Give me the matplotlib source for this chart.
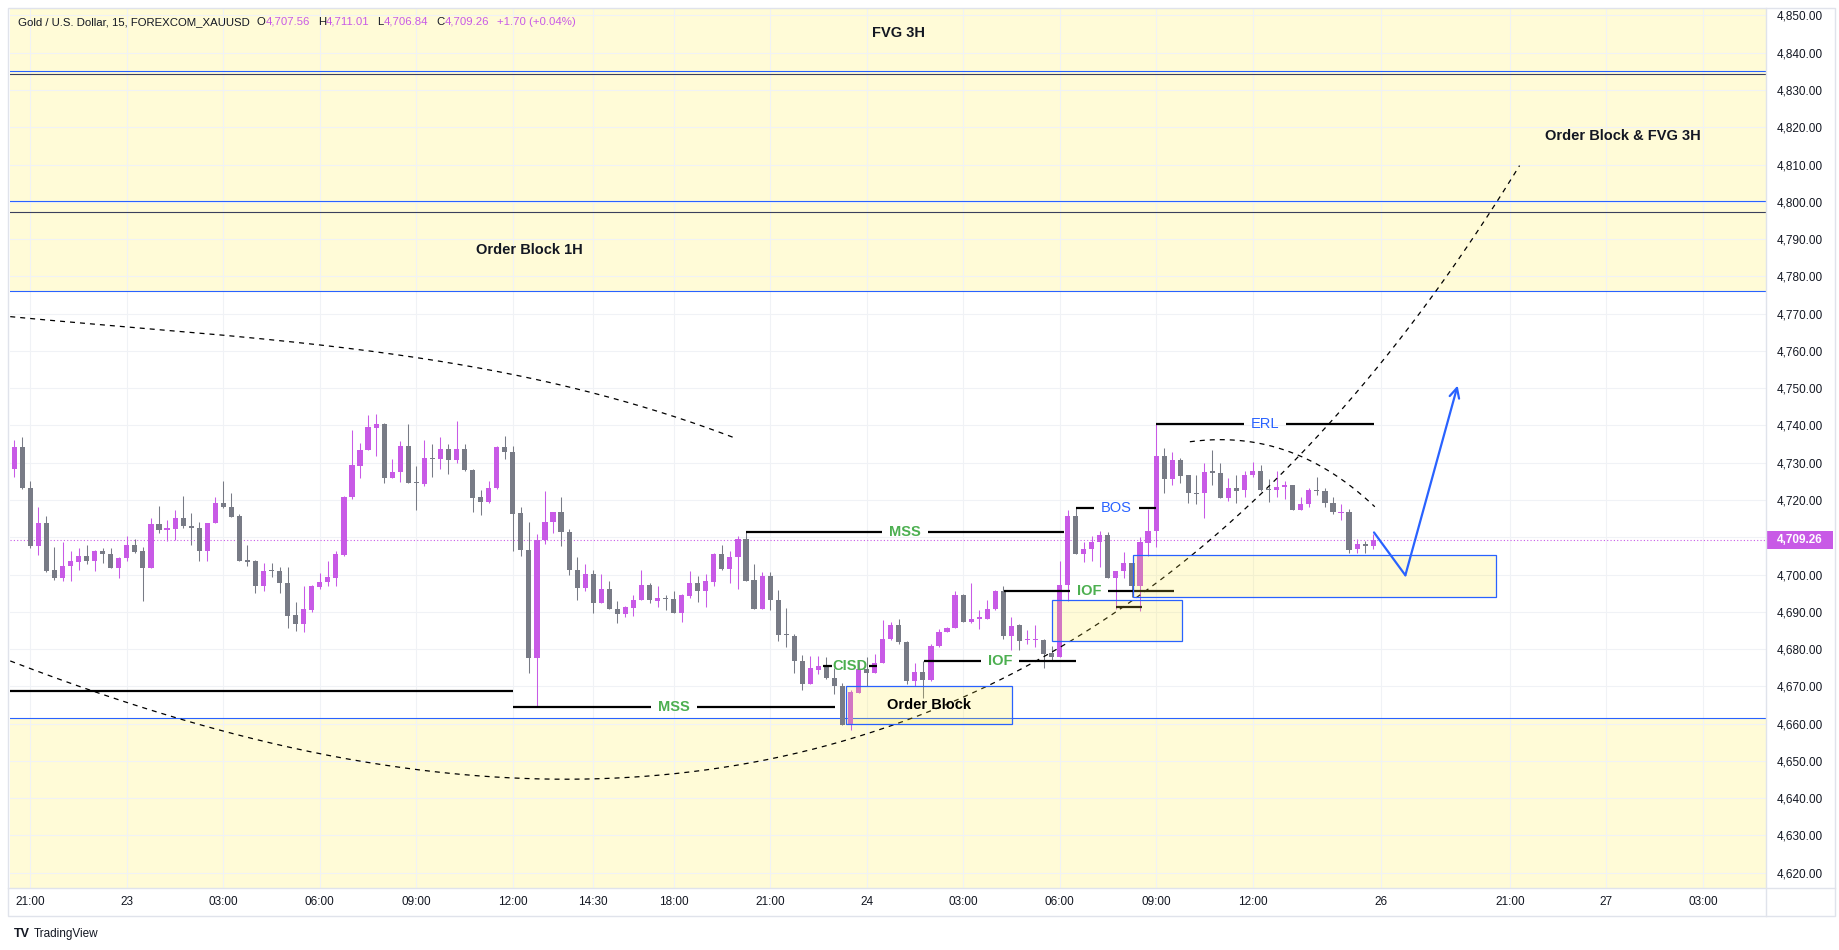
import numpy as np
import matplotlib
matplotlib.use("Agg")
import matplotlib.pyplot as plt
import matplotlib.transforms as mtransforms
from matplotlib.patches import Rectangle
from matplotlib.lines import Line2D

plt.rcParams["font.family"] = ["Liberation Sans", "DejaVu Sans"]

# ---- price data (15 min bars, bar index 0 = 21:00 on the 22nd) ----
first_bar = -2
opens = [4728.3, 4734.1, 4723.3, 4707.6, 4713.8, 4701.3, 4699.0, 4702.2, 4703.3, 4705.1,
         4703.7, 4706.4, 4705.6, 4701.7, 4704.4, 4708.0, 4706.2, 4701.7, 4713.6, 4712.0,
         4712.1, 4715.3, 4713.1, 4712.6, 4706.2, 4713.8, 4719.3, 4718.2, 4715.6, 4704.0,
         4703.5, 4696.8, 4701.0, 4701.0, 4697.8, 4689.2, 4686.6, 4690.6, 4696.6, 4697.9,
         4699.2, 4705.3, 4720.7, 4729.2, 4733.4, 4739.3, 4740.3, 4725.8, 4727.5, 4734.6,
         4724.7, 4724.2, 4731.4, 4730.9, 4733.8, 4730.6, 4733.8, 4728.1, 4720.7, 4719.4,
         4723.2, 4734.1, 4733.0, 4716.4, 4706.7, 4677.5, 4709.3, 4714.0, 4716.9, 4711.5,
         4701.3, 4696.3, 4700.2, 4692.3, 4696.2, 4690.8, 4689.3, 4691.1, 4693.1, 4697.3,
         4692.8, 4693.8, 4693.5, 4689.6, 4694.3, 4697.6, 4695.5, 4698.1, 4705.6, 4701.6,
         4704.6, 4709.6, 4698.6, 4690.8, 4699.7, 4693.3, 4683.9, 4683.6, 4676.9, 4670.6,
         4674.5, 4675.4, 4672.2, 4670.0, 4659.6, 4668.2, 4674.6, 4673.5, 4676.4, 4682.7,
         4686.5, 4682.0, 4671.5, 4673.9, 4671.8, 4680.7, 4684.5, 4685.6, 4694.6, 4687.4,
         4688.2, 4688.2, 4690.7, 4695.5, 4683.4, 4686.4, 4682.4, 4682.4, 4682.4, 4679.0,
         4677.8, 4697.1, 4715.6, 4705.5, 4706.9, 4708.7, 4710.7, 4699.0, 4700.9, 4703.2,
         4697.0, 4708.4, 4711.6, 4731.9, 4725.6, 4730.6, 4726.6, 4721.9, 4721.8, 4727.7,
         4727.3, 4720.5, 4723.3, 4722.7, 4726.6, 4727.8, 4723.0, 4722.7, 4723.4, 4723.9,
         4717.3, 4719.0, 4722.8, 4722.5, 4719.3, 4716.6, 4716.9, 4706.9, 4708.2, 4707.56]
highs = [4736.0, 4737.0, 4725.0, 4718.2, 4715.8, 4707.5, 4708.8, 4706.2, 4707.2, 4707.8,
         4706.6, 4707.2, 4707.2, 4704.6, 4710.4, 4709.6, 4707.5, 4715.3, 4718.5, 4714.5,
         4717.4, 4721.2, 4716.6, 4714.2, 4713.8, 4720.9, 4725.0, 4722.0, 4716.2, 4707.8,
         4703.9, 4703.2, 4703.2, 4702.1, 4701.9, 4692.7, 4697.0, 4697.3, 4700.5, 4703.5,
         4706.2, 4721.2, 4738.9, 4735.2, 4742.7, 4743.2, 4740.7, 4730.9, 4735.7, 4740.3,
         4729.0, 4736.0, 4734.9, 4736.8, 4734.9, 4741.2, 4734.9, 4728.4, 4722.8, 4725.2,
         4734.6, 4737.3, 4734.6, 4718.2, 4714.2, 4711.0, 4722.3, 4716.9, 4720.7, 4712.1,
         4704.8, 4702.7, 4701.3, 4700.2, 4698.4, 4692.8, 4691.6, 4694.6, 4701.3, 4697.6,
         4697.0, 4694.6, 4695.7, 4694.9, 4701.0, 4699.7, 4700.2, 4705.9, 4708.0, 4706.2,
         4710.3, 4711.5, 4702.7, 4700.8, 4700.8, 4695.9, 4691.1, 4684.0, 4678.5, 4678.1,
         4678.1, 4677.8, 4674.9, 4671.0, 4669.0, 4676.9, 4677.9, 4678.7, 4687.8, 4687.2,
         4688.0, 4682.2, 4676.4, 4676.9, 4681.4, 4685.4, 4686.0, 4695.5, 4694.9, 4697.6,
         4690.5, 4693.2, 4695.9, 4697.0, 4688.7, 4686.7, 4685.2, 4686.5, 4682.7, 4680.9,
         4703.7, 4717.2, 4718.1, 4708.6, 4710.4, 4711.8, 4711.3, 4701.0, 4706.0, 4703.2,
         4710.0, 4717.6, 4740.4, 4734.0, 4733.0, 4731.3, 4726.6, 4726.6, 4729.9, 4733.5,
         4729.9, 4725.9, 4726.6, 4727.9, 4730.1, 4729.5, 4725.7, 4727.9, 4725.0, 4723.9,
         4720.7, 4723.2, 4726.3, 4723.2, 4720.7, 4718.8, 4717.6, 4709.6, 4708.9, 4711.01]
lows = [4726.3, 4722.9, 4707.0, 4705.2, 4700.6, 4698.6, 4698.4, 4698.4, 4701.3, 4702.7,
        4701.0, 4703.0, 4701.7, 4699.0, 4703.6, 4705.7, 4692.8, 4701.7, 4711.1, 4708.9,
        4709.3, 4712.4, 4707.9, 4703.6, 4703.7, 4713.8, 4717.8, 4715.4, 4703.7, 4702.2,
        4695.0, 4695.7, 4699.3, 4695.1, 4685.6, 4684.8, 4684.5, 4689.9, 4696.1, 4696.8,
        4696.8, 4705.1, 4720.2, 4726.0, 4733.4, 4731.7, 4724.5, 4725.8, 4724.8, 4724.5,
        4717.3, 4723.8, 4726.3, 4728.3, 4726.9, 4730.0, 4727.9, 4716.7, 4715.9, 4719.2,
        4722.9, 4730.9, 4706.2, 4704.9, 4673.5, 4664.6, 4708.2, 4711.1, 4707.6, 4699.8,
        4693.1, 4695.6, 4689.6, 4692.3, 4690.7, 4686.9, 4688.5, 4688.8, 4693.1, 4692.3,
        4691.2, 4690.4, 4689.6, 4687.4, 4693.8, 4692.5, 4691.2, 4696.8, 4701.3, 4697.6,
        4696.0, 4698.4, 4690.7, 4690.7, 4690.4, 4682.3, 4680.5, 4673.5, 4669.0, 4670.6,
        4673.2, 4672.0, 4667.9, 4659.6, 4658.3, 4668.2, 4670.2, 4673.5, 4676.4, 4682.4,
        4681.4, 4670.6, 4670.2, 4667.0, 4671.5, 4680.5, 4684.5, 4685.6, 4687.2, 4686.9,
        4685.4, 4688.0, 4690.5, 4682.7, 4679.7, 4679.7, 4681.4, 4680.5, 4674.9, 4676.9,
        4677.8, 4693.0, 4705.5, 4703.3, 4703.7, 4701.9, 4699.0, 4690.7, 4699.0, 4693.9,
        4690.3, 4705.1, 4707.3, 4721.8, 4724.1, 4724.6, 4719.2, 4718.8, 4715.2, 4724.1,
        4720.5, 4719.7, 4719.1, 4720.7, 4726.3, 4722.5, 4719.4, 4720.7, 4720.3, 4717.3,
        4717.2, 4718.2, 4721.4, 4718.2, 4716.3, 4714.5, 4705.8, 4705.8, 4705.7, 4706.84]
closes = [4734.1, 4723.2, 4707.6, 4713.8, 4701.0, 4699.0, 4702.4, 4703.5, 4705.1, 4703.7,
          4706.4, 4705.4, 4701.7, 4704.5, 4708.0, 4706.0, 4701.7, 4713.6, 4712.0, 4712.4,
          4715.3, 4713.0, 4712.4, 4706.2, 4713.8, 4719.3, 4718.1, 4715.4, 4703.7, 4703.3,
          4696.8, 4701.0, 4700.9, 4697.6, 4689.0, 4686.6, 4690.8, 4696.8, 4698.1, 4699.4,
          4705.6, 4720.9, 4729.5, 4733.5, 4739.5, 4740.3, 4725.8, 4727.6, 4734.6, 4724.5,
          4724.5, 4731.3, 4730.9, 4733.8, 4730.6, 4733.8, 4728.1, 4720.5, 4719.4, 4723.2,
          4734.1, 4732.8, 4716.2, 4706.5, 4677.5, 4709.3, 4714.2, 4716.9, 4711.3, 4701.1,
          4696.3, 4700.2, 4692.3, 4696.2, 4690.7, 4689.3, 4691.4, 4693.3, 4697.3, 4693.1,
          4693.8, 4693.4, 4689.6, 4694.6, 4697.6, 4695.5, 4698.4, 4705.6, 4701.6, 4704.8,
          4709.6, 4698.4, 4690.8, 4699.7, 4693.1, 4683.7, 4683.7, 4676.7, 4670.6, 4674.8,
          4675.4, 4672.2, 4670.0, 4659.6, 4668.4, 4674.6, 4673.5, 4676.4, 4682.7, 4686.5,
          4681.8, 4671.5, 4673.9, 4671.8, 4680.9, 4684.7, 4685.7, 4694.6, 4687.4, 4688.2,
          4688.4, 4690.8, 4695.5, 4683.4, 4686.2, 4682.1, 4682.7, 4682.7, 4678.7, 4677.8,
          4697.3, 4715.6, 4705.5, 4706.9, 4708.8, 4710.7, 4699.0, 4701.0, 4703.2, 4697.0,
          4708.6, 4711.8, 4731.9, 4725.6, 4730.6, 4726.4, 4721.8, 4721.7, 4727.6, 4727.3,
          4720.5, 4723.3, 4722.5, 4726.7, 4727.8, 4722.8, 4722.7, 4723.6, 4723.9, 4717.3,
          4719.0, 4722.7, 4722.5, 4719.1, 4716.7, 4716.8, 4706.7, 4708.2, 4707.7, 4709.26]

time_tick_pos = [0, 12, 24, 36, 48, 60, 70, 80, 92, 104, 116, 128, 140, 152, 168, 184, 196, 208]
time_tick_labels = ["21:00", "23", "03:00", "06:00", "09:00", "12:00", "14:30", "18:00", "21:00",
                    "24", "03:00", "06:00", "09:00", "12:00", "26", "21:00", "27", "03:00"]
price_ticks = list(range(4620, 4851, 10))
last_price = 4709.26

# ---- drawings (bar index, price) ----
seg_x0 = [-3, 60.0, 89.0, 98.6, 111.1, 121.1, 130.1, 135.0, 140.0]
seg_x1 = [60.0, 100.1, 128.5, 105.3, 130.1, 142.2, 140.0, 138.2, 167.1]
seg_y = [4668.8, 4664.5, 4711.3, 4675.4, 4676.7, 4695.5, 4717.8, 4691.2, 4740.3]
seg_text = ["", "MSS", "MSS", "CISD", "IOF", "IOF", "BOS", "", "ERL"]
seg_gap = [0, 7, 7, 1, 7, 7, 7, 0, 7]

box_x0 = [101.4, 127.1, 137.1]
box_x1 = [122.1, 143.2, 182.3]
box_y0 = [4659.9, 4682.3, 4694.0]
box_y1 = [4670.1, 4693.2, 4705.3]

zone_blue_lines = [4835.2, 4800.3, 4776.0, 4661.5]
zone_dark_lines = [4834.2, 4797.3]
zone_labels = ["FVG 3H", "Order Block 1H", "Order Block & FVG 3H"]
zone_label_x = [108.0, 62.0, 198.1]
zone_label_y = [4845.3, 4787.0, 4817.6]

low_curve_x = [-2.5, 7.2, 31.0, 64.8, 98.9, 108.6, 118.9, 126.0, 131.4, 138.8, 147.1, 155.4,
               161.6, 166.4, 174.6, 181.9, 185.2]
low_curve_y = [4677.0, 4668.8, 4654.5, 4645.2, 4653.2, 4660.8, 4670.2, 4678.7, 4684.9, 4695.7,
               4710.0, 4726.1, 4740.5, 4752.1, 4776.0, 4800.0, 4808.4]
top_curve_x = [-2.5, 25.0, 45.0, 64.2, 72.1, 80.0, 87.9]
top_curve_y = [4769.1, 4764.5, 4758.5, 4751.6, 4747.8, 4742.9, 4736.0]
small_arc_x = [144.2, 148.4, 152.1, 156.7, 160.8, 163.7, 166.2, 167.2]
small_arc_y = [4735.7, 4736.0, 4735.5, 4733.1, 4728.6, 4724.3, 4720.3, 4718.2]

path_x = [167.1, 171.0, 177.5]
path_y = [4711.3, 4699.8, 4750.7]

PURPLE = "#c85ae6"
GREY = "#787b86"
BLUE = "#2962ff"
GREEN = "#4caf50"
ZONE = (1.0, 0.92, 0.23, 0.2)
TXT = "#131722"

W, H = 1840, 950
fig = plt.figure(figsize=(W / 100, H / 100), dpi=100)
L, R, T, B = 10, 1766, 8, 888
ax = fig.add_axes([L / W, 1 - B / H, (R - L) / W, (B - T) / H])
ax.set_xlim(-2.53, 215.85)
ax.set_ylim(4615.9, 4852.0)
for s in ax.spines.values():
    s.set_visible(False)

ax.set_xticks(time_tick_pos)
ax.set_xticklabels(time_tick_labels)
ax.set_yticks(price_ticks)
ax.set_yticklabels(["" if p == 4710 else f"{p:,.2f}" for p in price_ticks])
ax.yaxis.tick_right()
ax.tick_params(axis="x", length=0, pad=6, labelsize=8.5, labelcolor=TXT)
ax.tick_params(axis="y", length=0, pad=8, labelsize=8.5, labelcolor=TXT)
for lab in ax.get_yticklabels():
    lab.set_horizontalalignment("left")
ax.grid(True, color="#f0f2f6", lw=0.75, zorder=0)
ax.set_axisbelow(True)

# zones
ax.axhspan(4776.0, 4900, color=ZONE, lw=0, zorder=0.5)
ax.axhspan(4500, 4661.5, color=ZONE, lw=0, zorder=0.5)
for y in zone_blue_lines:
    ax.axhline(y, color=BLUE, lw=0.8, zorder=1)
for y in zone_dark_lines:
    ax.axhline(y, color="#3a3f5c", lw=0.8, zorder=1)
for s, x, y in zip(zone_labels, zone_label_x, zone_label_y):
    ax.text(x, y, s, ha="center", va="center", fontsize=10.5, fontweight="bold", color=TXT, zorder=6)

# candles
xs = np.arange(first_bar, first_bar + len(opens))
o, h, l, c = map(np.array, (opens, highs, lows, closes))
cols = [PURPLE if cc >= oo else GREY for oo, cc in zip(o, c)]
ax.vlines(xs, l, h, colors=cols, lw=0.75, zorder=2)
body = np.maximum(np.abs(c - o), 0.3)
ax.bar(xs, body, bottom=np.minimum(o, c), width=0.64, color=cols, lw=0, zorder=3)

ax.axhline(last_price, color=PURPLE, lw=0.8, ls=(0, (1, 2)), zorder=2.5)

# horizontal level segments, the line broken around its label
rend = fig.canvas.get_renderer()
px_per_bar = ax.transData.transform((1, 0))[0] - ax.transData.transform((0, 0))[0]
for x0, x1, y, s, gap in zip(seg_x0, seg_x1, seg_y, seg_text, seg_gap):
    if not s:
        ax.plot([x0, x1], [y, y], color="black", lw=1.6, solid_capstyle="butt", zorder=4)
        continue
    xm = (x0 + x1) / 2
    col = BLUE if s in ("BOS", "ERL") else GREEN
    wt = "normal" if s in ("BOS", "ERL") else "bold"
    t = ax.text(xm, y, s, ha="center", va="center", fontsize=10.5, color=col, fontweight=wt, zorder=6)
    half = (t.get_window_extent(renderer=rend).width / 2 + gap) / px_per_bar
    if xm - half > x0:
        ax.plot([x0, xm - half], [y, y], color="black", lw=1.6, solid_capstyle="butt", zorder=4)
        ax.plot([xm + half, x1], [y, y], color="black", lw=1.6, solid_capstyle="butt", zorder=4)

# boxes
for x0, x1, y0, y1 in zip(box_x0, box_x1, box_y0, box_y1):
    ax.add_patch(Rectangle((x0, y0), x1 - x0, y1 - y0, fc=ZONE, ec=BLUE, lw=0.9, zorder=4.5))
ax.text((box_x0[0] + box_x1[0]) / 2, 4665.0, "Order Block", ha="center", va="center",
        fontsize=10.5, fontweight="bold", color="black", zorder=6)


def smooth(px, py, deg):
    coef = np.polyfit(px, py, deg)
    xx = np.linspace(px[0], px[-1], 400)
    return xx, np.polyval(coef, xx)


for cx, cy, deg in ((low_curve_x, low_curve_y, 5), (top_curve_x, top_curve_y, 3),
                    (small_arc_x, small_arc_y, 3)):
    xx, yy = smooth(cx, cy, deg)
    ax.plot(xx, yy, color="black", lw=0.9, ls=(0, (4, 4)), zorder=4.2)

# forecast arrow
ax.plot(path_x[:2], path_y[:2], color=BLUE, lw=1.6, solid_capstyle="round", zorder=5)
ax.annotate("", xy=(path_x[2], path_y[2]), xytext=(path_x[1], path_y[1]),
            arrowprops=dict(arrowstyle="->,head_length=0.7,head_width=0.35", color=BLUE, lw=1.6,
                            shrinkA=0, shrinkB=0), zorder=5)

# price tag on the axis
bt = mtransforms.blended_transform_factory(fig.transFigure, ax.transData)
ax.add_patch(Rectangle((1767 / W, last_price - 2.3), 66 / W, 4.6, transform=bt, fc=PURPLE,
                       ec="none", clip_on=False, zorder=7))
ax.text(1800 / W, last_price, f"{last_price:,.2f}", transform=bt, ha="center", va="center",
        fontsize=8.5, color="white", fontweight="bold", zorder=8, clip_on=False)

# widget frame
fig.add_artist(Rectangle((8 / W, 1 - 916 / H), (1835 - 8) / W, (916 - 8) / H, transform=fig.transFigure,
                         fill=False, ec="#e0e3eb", lw=1))
fig.add_artist(Line2D([R / W, R / W], [1 - 916 / H, 1 - 8 / H], transform=fig.transFigure,
                      color="#e0e3eb", lw=1))
fig.add_artist(Line2D([8 / W, 1835 / W], [1 - B / H, 1 - B / H], transform=fig.transFigure,
                      color="#e0e3eb", lw=1))

# legend line at the top
pieces = [("Gold / U.S. Dollar, 15, FOREXCOM_XAUUSD", TXT, 7), ("O", TXT, 0), ("4,707.56", PURPLE, 8),
          ("H", TXT, 0), ("4,711.01", PURPLE, 8), ("L", TXT, 0), ("4,706.84", PURPLE, 8),
          ("C", TXT, 0), ("4,709.26", PURPLE, 8), ("+1.70 (+0.04%)", PURPLE, 0)]
xp = 18
for s, col, gap in pieces:
    t = fig.text(xp / W, 1 - 22 / H, s, color=col, fontsize=8.2, ha="left", va="center")
    xp += t.get_window_extent(renderer=rend).width + gap

# logo
fig.text(14 / W, 1 - 934 / H, "TV", fontsize=9, fontweight="bold", color=TXT, va="center")
fig.text(34 / W, 1 - 934 / H, "TradingView", fontsize=8.5, color=TXT, va="center")

fig.savefig("out.png", dpi=100, facecolor="white")
